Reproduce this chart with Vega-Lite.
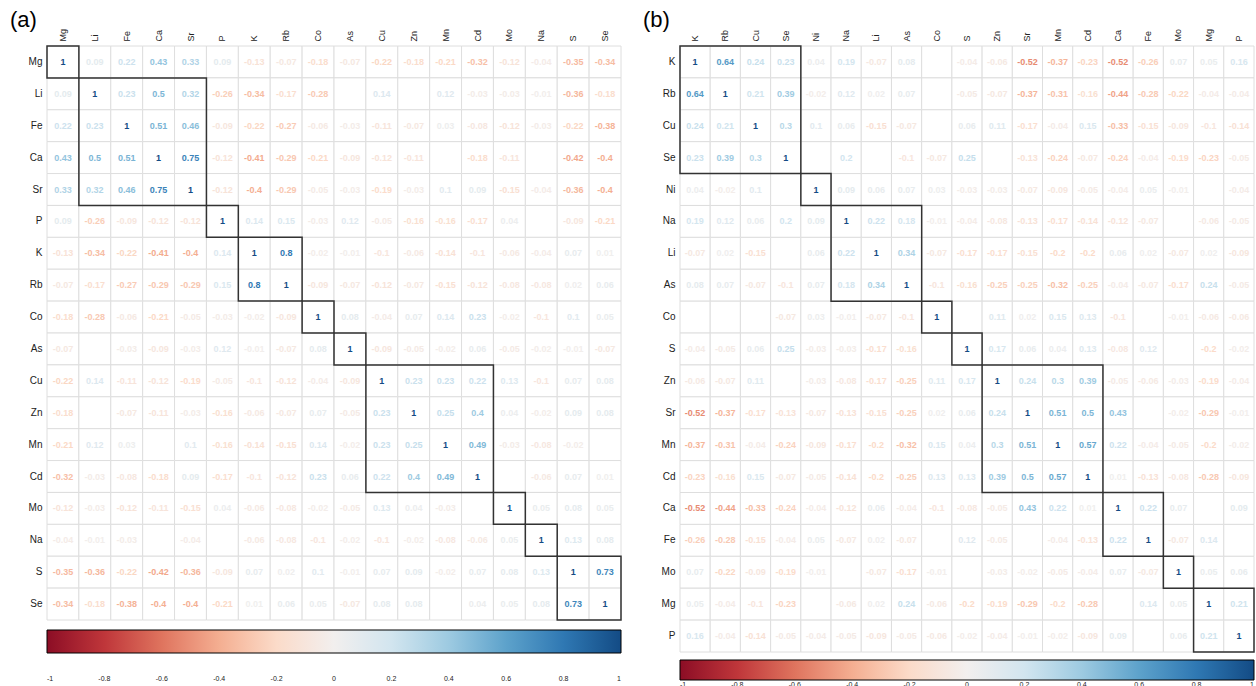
{
"$schema": "https://vega.github.io/schema/vega-lite/v6.json",
"padding": {"left": 10, "top": 9, "right": 0, "bottom": 0},
"spacing": 21,
"config": {"view": {"stroke": null}, "font": "Liberation Sans", "legend": {"gradientHorizontalMaxLength": 700}},
"resolve": {"scale": {"color": "independent", "x": "independent", "y": "independent"}, "legend": {"color": "independent"}},
"datasets": {
"a": [
{"r":"Mg","c":"Mg","v":1},{"r":"Mg","c":"Li","v":0.09},{"r":"Mg","c":"Fe","v":0.22},{"r":"Mg","c":"Ca","v":0.43},{"r":"Mg","c":"Sr","v":0.33},{"r":"Mg","c":"P","v":0.09},{"r":"Mg","c":"K","v":-0.13},{"r":"Mg","c":"Rb","v":-0.07},{"r":"Mg","c":"Co","v":-0.18},{"r":"Mg","c":"As","v":-0.07},{"r":"Mg","c":"Cu","v":-0.22},{"r":"Mg","c":"Zn","v":-0.18},{"r":"Mg","c":"Mn","v":-0.21},{"r":"Mg","c":"Cd","v":-0.32},{"r":"Mg","c":"Mo","v":-0.12},{"r":"Mg","c":"Na","v":-0.04},{"r":"Mg","c":"S","v":-0.35},{"r":"Mg","c":"Se","v":-0.34},
{"r":"Li","c":"Mg","v":0.09},{"r":"Li","c":"Li","v":1},{"r":"Li","c":"Fe","v":0.23},{"r":"Li","c":"Ca","v":0.5},{"r":"Li","c":"Sr","v":0.32},{"r":"Li","c":"P","v":-0.26},{"r":"Li","c":"K","v":-0.34},{"r":"Li","c":"Rb","v":-0.17},{"r":"Li","c":"Co","v":-0.28},{"r":"Li","c":"As","v":0},{"r":"Li","c":"Cu","v":0.14},{"r":"Li","c":"Zn","v":0},{"r":"Li","c":"Mn","v":0.12},{"r":"Li","c":"Cd","v":-0.03},{"r":"Li","c":"Mo","v":-0.03},{"r":"Li","c":"Na","v":-0.01},{"r":"Li","c":"S","v":-0.36},{"r":"Li","c":"Se","v":-0.18},
{"r":"Fe","c":"Mg","v":0.22},{"r":"Fe","c":"Li","v":0.23},{"r":"Fe","c":"Fe","v":1},{"r":"Fe","c":"Ca","v":0.51},{"r":"Fe","c":"Sr","v":0.46},{"r":"Fe","c":"P","v":-0.09},{"r":"Fe","c":"K","v":-0.22},{"r":"Fe","c":"Rb","v":-0.27},{"r":"Fe","c":"Co","v":-0.06},{"r":"Fe","c":"As","v":-0.03},{"r":"Fe","c":"Cu","v":-0.11},{"r":"Fe","c":"Zn","v":-0.07},{"r":"Fe","c":"Mn","v":0.03},{"r":"Fe","c":"Cd","v":-0.08},{"r":"Fe","c":"Mo","v":-0.12},{"r":"Fe","c":"Na","v":-0.03},{"r":"Fe","c":"S","v":-0.22},{"r":"Fe","c":"Se","v":-0.38},
{"r":"Ca","c":"Mg","v":0.43},{"r":"Ca","c":"Li","v":0.5},{"r":"Ca","c":"Fe","v":0.51},{"r":"Ca","c":"Ca","v":1},{"r":"Ca","c":"Sr","v":0.75},{"r":"Ca","c":"P","v":-0.12},{"r":"Ca","c":"K","v":-0.41},{"r":"Ca","c":"Rb","v":-0.29},{"r":"Ca","c":"Co","v":-0.21},{"r":"Ca","c":"As","v":-0.09},{"r":"Ca","c":"Cu","v":-0.12},{"r":"Ca","c":"Zn","v":-0.11},{"r":"Ca","c":"Mn","v":0},{"r":"Ca","c":"Cd","v":-0.18},{"r":"Ca","c":"Mo","v":-0.11},{"r":"Ca","c":"Na","v":0},{"r":"Ca","c":"S","v":-0.42},{"r":"Ca","c":"Se","v":-0.4},
{"r":"Sr","c":"Mg","v":0.33},{"r":"Sr","c":"Li","v":0.32},{"r":"Sr","c":"Fe","v":0.46},{"r":"Sr","c":"Ca","v":0.75},{"r":"Sr","c":"Sr","v":1},{"r":"Sr","c":"P","v":-0.12},{"r":"Sr","c":"K","v":-0.4},{"r":"Sr","c":"Rb","v":-0.29},{"r":"Sr","c":"Co","v":-0.05},{"r":"Sr","c":"As","v":-0.03},{"r":"Sr","c":"Cu","v":-0.19},{"r":"Sr","c":"Zn","v":-0.03},{"r":"Sr","c":"Mn","v":0.1},{"r":"Sr","c":"Cd","v":0.09},{"r":"Sr","c":"Mo","v":-0.15},{"r":"Sr","c":"Na","v":-0.04},{"r":"Sr","c":"S","v":-0.36},{"r":"Sr","c":"Se","v":-0.4},
{"r":"P","c":"Mg","v":0.09},{"r":"P","c":"Li","v":-0.26},{"r":"P","c":"Fe","v":-0.09},{"r":"P","c":"Ca","v":-0.12},{"r":"P","c":"Sr","v":-0.12},{"r":"P","c":"P","v":1},{"r":"P","c":"K","v":0.14},{"r":"P","c":"Rb","v":0.15},{"r":"P","c":"Co","v":-0.03},{"r":"P","c":"As","v":0.12},{"r":"P","c":"Cu","v":-0.05},{"r":"P","c":"Zn","v":-0.16},{"r":"P","c":"Mn","v":-0.16},{"r":"P","c":"Cd","v":-0.17},{"r":"P","c":"Mo","v":0.04},{"r":"P","c":"Na","v":0},{"r":"P","c":"S","v":-0.09},{"r":"P","c":"Se","v":-0.21},
{"r":"K","c":"Mg","v":-0.13},{"r":"K","c":"Li","v":-0.34},{"r":"K","c":"Fe","v":-0.22},{"r":"K","c":"Ca","v":-0.41},{"r":"K","c":"Sr","v":-0.4},{"r":"K","c":"P","v":0.14},{"r":"K","c":"K","v":1},{"r":"K","c":"Rb","v":0.8},{"r":"K","c":"Co","v":-0.02},{"r":"K","c":"As","v":-0.01},{"r":"K","c":"Cu","v":-0.1},{"r":"K","c":"Zn","v":-0.06},{"r":"K","c":"Mn","v":-0.14},{"r":"K","c":"Cd","v":-0.1},{"r":"K","c":"Mo","v":-0.06},{"r":"K","c":"Na","v":-0.04},{"r":"K","c":"S","v":0.07},{"r":"K","c":"Se","v":0.01},
{"r":"Rb","c":"Mg","v":-0.07},{"r":"Rb","c":"Li","v":-0.17},{"r":"Rb","c":"Fe","v":-0.27},{"r":"Rb","c":"Ca","v":-0.29},{"r":"Rb","c":"Sr","v":-0.29},{"r":"Rb","c":"P","v":0.15},{"r":"Rb","c":"K","v":0.8},{"r":"Rb","c":"Rb","v":1},{"r":"Rb","c":"Co","v":-0.09},{"r":"Rb","c":"As","v":-0.07},{"r":"Rb","c":"Cu","v":-0.12},{"r":"Rb","c":"Zn","v":-0.07},{"r":"Rb","c":"Mn","v":-0.15},{"r":"Rb","c":"Cd","v":-0.12},{"r":"Rb","c":"Mo","v":-0.08},{"r":"Rb","c":"Na","v":-0.08},{"r":"Rb","c":"S","v":0.02},{"r":"Rb","c":"Se","v":0.06},
{"r":"Co","c":"Mg","v":-0.18},{"r":"Co","c":"Li","v":-0.28},{"r":"Co","c":"Fe","v":-0.06},{"r":"Co","c":"Ca","v":-0.21},{"r":"Co","c":"Sr","v":-0.05},{"r":"Co","c":"P","v":-0.03},{"r":"Co","c":"K","v":-0.02},{"r":"Co","c":"Rb","v":-0.09},{"r":"Co","c":"Co","v":1},{"r":"Co","c":"As","v":0.08},{"r":"Co","c":"Cu","v":-0.04},{"r":"Co","c":"Zn","v":0.07},{"r":"Co","c":"Mn","v":0.14},{"r":"Co","c":"Cd","v":0.23},{"r":"Co","c":"Mo","v":-0.02},{"r":"Co","c":"Na","v":-0.1},{"r":"Co","c":"S","v":0.1},{"r":"Co","c":"Se","v":0.05},
{"r":"As","c":"Mg","v":-0.07},{"r":"As","c":"Li","v":0},{"r":"As","c":"Fe","v":-0.03},{"r":"As","c":"Ca","v":-0.09},{"r":"As","c":"Sr","v":-0.03},{"r":"As","c":"P","v":0.12},{"r":"As","c":"K","v":-0.01},{"r":"As","c":"Rb","v":-0.07},{"r":"As","c":"Co","v":0.08},{"r":"As","c":"As","v":1},{"r":"As","c":"Cu","v":-0.09},{"r":"As","c":"Zn","v":-0.05},{"r":"As","c":"Mn","v":-0.02},{"r":"As","c":"Cd","v":0.06},{"r":"As","c":"Mo","v":-0.05},{"r":"As","c":"Na","v":-0.02},{"r":"As","c":"S","v":-0.01},{"r":"As","c":"Se","v":-0.07},
{"r":"Cu","c":"Mg","v":-0.22},{"r":"Cu","c":"Li","v":0.14},{"r":"Cu","c":"Fe","v":-0.11},{"r":"Cu","c":"Ca","v":-0.12},{"r":"Cu","c":"Sr","v":-0.19},{"r":"Cu","c":"P","v":-0.05},{"r":"Cu","c":"K","v":-0.1},{"r":"Cu","c":"Rb","v":-0.12},{"r":"Cu","c":"Co","v":-0.04},{"r":"Cu","c":"As","v":-0.09},{"r":"Cu","c":"Cu","v":1},{"r":"Cu","c":"Zn","v":0.23},{"r":"Cu","c":"Mn","v":0.23},{"r":"Cu","c":"Cd","v":0.22},{"r":"Cu","c":"Mo","v":0.13},{"r":"Cu","c":"Na","v":-0.1},{"r":"Cu","c":"S","v":0.07},{"r":"Cu","c":"Se","v":0.08},
{"r":"Zn","c":"Mg","v":-0.18},{"r":"Zn","c":"Li","v":0},{"r":"Zn","c":"Fe","v":-0.07},{"r":"Zn","c":"Ca","v":-0.11},{"r":"Zn","c":"Sr","v":-0.03},{"r":"Zn","c":"P","v":-0.16},{"r":"Zn","c":"K","v":-0.06},{"r":"Zn","c":"Rb","v":-0.07},{"r":"Zn","c":"Co","v":0.07},{"r":"Zn","c":"As","v":-0.05},{"r":"Zn","c":"Cu","v":0.23},{"r":"Zn","c":"Zn","v":1},{"r":"Zn","c":"Mn","v":0.25},{"r":"Zn","c":"Cd","v":0.4},{"r":"Zn","c":"Mo","v":0.04},{"r":"Zn","c":"Na","v":-0.02},{"r":"Zn","c":"S","v":0.09},{"r":"Zn","c":"Se","v":0.08},
{"r":"Mn","c":"Mg","v":-0.21},{"r":"Mn","c":"Li","v":0.12},{"r":"Mn","c":"Fe","v":0.03},{"r":"Mn","c":"Ca","v":0},{"r":"Mn","c":"Sr","v":0.1},{"r":"Mn","c":"P","v":-0.16},{"r":"Mn","c":"K","v":-0.14},{"r":"Mn","c":"Rb","v":-0.15},{"r":"Mn","c":"Co","v":0.14},{"r":"Mn","c":"As","v":-0.02},{"r":"Mn","c":"Cu","v":0.23},{"r":"Mn","c":"Zn","v":0.25},{"r":"Mn","c":"Mn","v":1},{"r":"Mn","c":"Cd","v":0.49},{"r":"Mn","c":"Mo","v":-0.03},{"r":"Mn","c":"Na","v":-0.08},{"r":"Mn","c":"S","v":-0.02},{"r":"Mn","c":"Se","v":0},
{"r":"Cd","c":"Mg","v":-0.32},{"r":"Cd","c":"Li","v":-0.03},{"r":"Cd","c":"Fe","v":-0.08},{"r":"Cd","c":"Ca","v":-0.18},{"r":"Cd","c":"Sr","v":0.09},{"r":"Cd","c":"P","v":-0.17},{"r":"Cd","c":"K","v":-0.1},{"r":"Cd","c":"Rb","v":-0.12},{"r":"Cd","c":"Co","v":0.23},{"r":"Cd","c":"As","v":0.06},{"r":"Cd","c":"Cu","v":0.22},{"r":"Cd","c":"Zn","v":0.4},{"r":"Cd","c":"Mn","v":0.49},{"r":"Cd","c":"Cd","v":1},{"r":"Cd","c":"Mo","v":0},{"r":"Cd","c":"Na","v":-0.06},{"r":"Cd","c":"S","v":0.07},{"r":"Cd","c":"Se","v":0.01},
{"r":"Mo","c":"Mg","v":-0.12},{"r":"Mo","c":"Li","v":-0.03},{"r":"Mo","c":"Fe","v":-0.12},{"r":"Mo","c":"Ca","v":-0.11},{"r":"Mo","c":"Sr","v":-0.15},{"r":"Mo","c":"P","v":0.04},{"r":"Mo","c":"K","v":-0.06},{"r":"Mo","c":"Rb","v":-0.08},{"r":"Mo","c":"Co","v":-0.02},{"r":"Mo","c":"As","v":-0.05},{"r":"Mo","c":"Cu","v":0.13},{"r":"Mo","c":"Zn","v":0.04},{"r":"Mo","c":"Mn","v":-0.03},{"r":"Mo","c":"Cd","v":0},{"r":"Mo","c":"Mo","v":1},{"r":"Mo","c":"Na","v":0.05},{"r":"Mo","c":"S","v":0.08},{"r":"Mo","c":"Se","v":0.05},
{"r":"Na","c":"Mg","v":-0.04},{"r":"Na","c":"Li","v":-0.01},{"r":"Na","c":"Fe","v":-0.03},{"r":"Na","c":"Ca","v":0},{"r":"Na","c":"Sr","v":-0.04},{"r":"Na","c":"P","v":0},{"r":"Na","c":"K","v":-0.06},{"r":"Na","c":"Rb","v":-0.08},{"r":"Na","c":"Co","v":-0.1},{"r":"Na","c":"As","v":-0.02},{"r":"Na","c":"Cu","v":-0.1},{"r":"Na","c":"Zn","v":-0.02},{"r":"Na","c":"Mn","v":-0.08},{"r":"Na","c":"Cd","v":-0.06},{"r":"Na","c":"Mo","v":0.05},{"r":"Na","c":"Na","v":1},{"r":"Na","c":"S","v":0.13},{"r":"Na","c":"Se","v":0.08},
{"r":"S","c":"Mg","v":-0.35},{"r":"S","c":"Li","v":-0.36},{"r":"S","c":"Fe","v":-0.22},{"r":"S","c":"Ca","v":-0.42},{"r":"S","c":"Sr","v":-0.36},{"r":"S","c":"P","v":-0.09},{"r":"S","c":"K","v":0.07},{"r":"S","c":"Rb","v":0.02},{"r":"S","c":"Co","v":0.1},{"r":"S","c":"As","v":-0.01},{"r":"S","c":"Cu","v":0.07},{"r":"S","c":"Zn","v":0.09},{"r":"S","c":"Mn","v":-0.02},{"r":"S","c":"Cd","v":0.07},{"r":"S","c":"Mo","v":0.08},{"r":"S","c":"Na","v":0.13},{"r":"S","c":"S","v":1},{"r":"S","c":"Se","v":0.73},
{"r":"Se","c":"Mg","v":-0.34},{"r":"Se","c":"Li","v":-0.18},{"r":"Se","c":"Fe","v":-0.38},{"r":"Se","c":"Ca","v":-0.4},{"r":"Se","c":"Sr","v":-0.4},{"r":"Se","c":"P","v":-0.21},{"r":"Se","c":"K","v":0.01},{"r":"Se","c":"Rb","v":0.06},{"r":"Se","c":"Co","v":0.05},{"r":"Se","c":"As","v":-0.07},{"r":"Se","c":"Cu","v":0.08},{"r":"Se","c":"Zn","v":0.08},{"r":"Se","c":"Mn","v":0},{"r":"Se","c":"Cd","v":0.04},{"r":"Se","c":"Mo","v":0.05},{"r":"Se","c":"Na","v":0.08},{"r":"Se","c":"S","v":0.73},{"r":"Se","c":"Se","v":1}
],
"b": [
{"r":"K","c":"K","v":1},{"r":"K","c":"Rb","v":0.64},{"r":"K","c":"Cu","v":0.24},{"r":"K","c":"Se","v":0.23},{"r":"K","c":"Ni","v":0.04},{"r":"K","c":"Na","v":0.19},{"r":"K","c":"Li","v":-0.07},{"r":"K","c":"As","v":0.08},{"r":"K","c":"Co","v":0},{"r":"K","c":"S","v":-0.04},{"r":"K","c":"Zn","v":-0.06},{"r":"K","c":"Sr","v":-0.52},{"r":"K","c":"Mn","v":-0.37},{"r":"K","c":"Cd","v":-0.23},{"r":"K","c":"Ca","v":-0.52},{"r":"K","c":"Fe","v":-0.26},{"r":"K","c":"Mo","v":0.07},{"r":"K","c":"Mg","v":0.05},{"r":"K","c":"P","v":0.16},
{"r":"Rb","c":"K","v":0.64},{"r":"Rb","c":"Rb","v":1},{"r":"Rb","c":"Cu","v":0.21},{"r":"Rb","c":"Se","v":0.39},{"r":"Rb","c":"Ni","v":-0.02},{"r":"Rb","c":"Na","v":0.12},{"r":"Rb","c":"Li","v":0.02},{"r":"Rb","c":"As","v":0.07},{"r":"Rb","c":"Co","v":0},{"r":"Rb","c":"S","v":-0.05},{"r":"Rb","c":"Zn","v":-0.07},{"r":"Rb","c":"Sr","v":-0.37},{"r":"Rb","c":"Mn","v":-0.31},{"r":"Rb","c":"Cd","v":-0.16},{"r":"Rb","c":"Ca","v":-0.44},{"r":"Rb","c":"Fe","v":-0.28},{"r":"Rb","c":"Mo","v":-0.22},{"r":"Rb","c":"Mg","v":-0.04},{"r":"Rb","c":"P","v":-0.04},
{"r":"Cu","c":"K","v":0.24},{"r":"Cu","c":"Rb","v":0.21},{"r":"Cu","c":"Cu","v":1},{"r":"Cu","c":"Se","v":0.3},{"r":"Cu","c":"Ni","v":0.1},{"r":"Cu","c":"Na","v":0.06},{"r":"Cu","c":"Li","v":-0.15},{"r":"Cu","c":"As","v":-0.07},{"r":"Cu","c":"Co","v":0},{"r":"Cu","c":"S","v":0.06},{"r":"Cu","c":"Zn","v":0.11},{"r":"Cu","c":"Sr","v":-0.17},{"r":"Cu","c":"Mn","v":-0.04},{"r":"Cu","c":"Cd","v":0.15},{"r":"Cu","c":"Ca","v":-0.33},{"r":"Cu","c":"Fe","v":-0.15},{"r":"Cu","c":"Mo","v":-0.09},{"r":"Cu","c":"Mg","v":-0.1},{"r":"Cu","c":"P","v":-0.14},
{"r":"Se","c":"K","v":0.23},{"r":"Se","c":"Rb","v":0.39},{"r":"Se","c":"Cu","v":0.3},{"r":"Se","c":"Se","v":1},{"r":"Se","c":"Ni","v":0},{"r":"Se","c":"Na","v":0.2},{"r":"Se","c":"Li","v":0},{"r":"Se","c":"As","v":-0.1},{"r":"Se","c":"Co","v":-0.07},{"r":"Se","c":"S","v":0.25},{"r":"Se","c":"Zn","v":0},{"r":"Se","c":"Sr","v":-0.13},{"r":"Se","c":"Mn","v":-0.24},{"r":"Se","c":"Cd","v":-0.07},{"r":"Se","c":"Ca","v":-0.24},{"r":"Se","c":"Fe","v":-0.04},{"r":"Se","c":"Mo","v":-0.19},{"r":"Se","c":"Mg","v":-0.23},{"r":"Se","c":"P","v":-0.05},
{"r":"Ni","c":"K","v":0.04},{"r":"Ni","c":"Rb","v":-0.02},{"r":"Ni","c":"Cu","v":0.1},{"r":"Ni","c":"Se","v":0},{"r":"Ni","c":"Ni","v":1},{"r":"Ni","c":"Na","v":0.09},{"r":"Ni","c":"Li","v":0.06},{"r":"Ni","c":"As","v":0.07},{"r":"Ni","c":"Co","v":0.03},{"r":"Ni","c":"S","v":-0.03},{"r":"Ni","c":"Zn","v":-0.03},{"r":"Ni","c":"Sr","v":-0.07},{"r":"Ni","c":"Mn","v":-0.09},{"r":"Ni","c":"Cd","v":-0.05},{"r":"Ni","c":"Ca","v":-0.04},{"r":"Ni","c":"Fe","v":0.05},{"r":"Ni","c":"Mo","v":-0.01},{"r":"Ni","c":"Mg","v":0},{"r":"Ni","c":"P","v":-0.04},
{"r":"Na","c":"K","v":0.19},{"r":"Na","c":"Rb","v":0.12},{"r":"Na","c":"Cu","v":0.06},{"r":"Na","c":"Se","v":0.2},{"r":"Na","c":"Ni","v":0.09},{"r":"Na","c":"Na","v":1},{"r":"Na","c":"Li","v":0.22},{"r":"Na","c":"As","v":0.18},{"r":"Na","c":"Co","v":-0.01},{"r":"Na","c":"S","v":-0.04},{"r":"Na","c":"Zn","v":-0.08},{"r":"Na","c":"Sr","v":-0.13},{"r":"Na","c":"Mn","v":-0.17},{"r":"Na","c":"Cd","v":-0.14},{"r":"Na","c":"Ca","v":-0.12},{"r":"Na","c":"Fe","v":-0.07},{"r":"Na","c":"Mo","v":0},{"r":"Na","c":"Mg","v":-0.06},{"r":"Na","c":"P","v":-0.05},
{"r":"Li","c":"K","v":-0.07},{"r":"Li","c":"Rb","v":0.02},{"r":"Li","c":"Cu","v":-0.15},{"r":"Li","c":"Se","v":0},{"r":"Li","c":"Ni","v":0.06},{"r":"Li","c":"Na","v":0.22},{"r":"Li","c":"Li","v":1},{"r":"Li","c":"As","v":0.34},{"r":"Li","c":"Co","v":-0.07},{"r":"Li","c":"S","v":-0.17},{"r":"Li","c":"Zn","v":-0.17},{"r":"Li","c":"Sr","v":-0.15},{"r":"Li","c":"Mn","v":-0.2},{"r":"Li","c":"Cd","v":-0.2},{"r":"Li","c":"Ca","v":0.06},{"r":"Li","c":"Fe","v":0.02},{"r":"Li","c":"Mo","v":-0.07},{"r":"Li","c":"Mg","v":0.02},{"r":"Li","c":"P","v":-0.09},
{"r":"As","c":"K","v":0.08},{"r":"As","c":"Rb","v":0.07},{"r":"As","c":"Cu","v":-0.07},{"r":"As","c":"Se","v":-0.1},{"r":"As","c":"Ni","v":0.07},{"r":"As","c":"Na","v":0.18},{"r":"As","c":"Li","v":0.34},{"r":"As","c":"As","v":1},{"r":"As","c":"Co","v":-0.1},{"r":"As","c":"S","v":-0.16},{"r":"As","c":"Zn","v":-0.25},{"r":"As","c":"Sr","v":-0.25},{"r":"As","c":"Mn","v":-0.32},{"r":"As","c":"Cd","v":-0.25},{"r":"As","c":"Ca","v":-0.04},{"r":"As","c":"Fe","v":-0.07},{"r":"As","c":"Mo","v":-0.17},{"r":"As","c":"Mg","v":0.24},{"r":"As","c":"P","v":-0.05},
{"r":"Co","c":"K","v":0},{"r":"Co","c":"Rb","v":0},{"r":"Co","c":"Cu","v":0},{"r":"Co","c":"Se","v":-0.07},{"r":"Co","c":"Ni","v":0.03},{"r":"Co","c":"Na","v":-0.01},{"r":"Co","c":"Li","v":-0.07},{"r":"Co","c":"As","v":-0.1},{"r":"Co","c":"Co","v":1},{"r":"Co","c":"S","v":0},{"r":"Co","c":"Zn","v":0.11},{"r":"Co","c":"Sr","v":0.02},{"r":"Co","c":"Mn","v":0.15},{"r":"Co","c":"Cd","v":0.13},{"r":"Co","c":"Ca","v":-0.1},{"r":"Co","c":"Fe","v":0},{"r":"Co","c":"Mo","v":-0.01},{"r":"Co","c":"Mg","v":-0.06},{"r":"Co","c":"P","v":-0.06},
{"r":"S","c":"K","v":-0.04},{"r":"S","c":"Rb","v":-0.05},{"r":"S","c":"Cu","v":0.06},{"r":"S","c":"Se","v":0.25},{"r":"S","c":"Ni","v":-0.03},{"r":"S","c":"Na","v":-0.03},{"r":"S","c":"Li","v":-0.17},{"r":"S","c":"As","v":-0.16},{"r":"S","c":"Co","v":0},{"r":"S","c":"S","v":1},{"r":"S","c":"Zn","v":0.17},{"r":"S","c":"Sr","v":0.06},{"r":"S","c":"Mn","v":0.04},{"r":"S","c":"Cd","v":0.13},{"r":"S","c":"Ca","v":-0.08},{"r":"S","c":"Fe","v":0.12},{"r":"S","c":"Mo","v":0},{"r":"S","c":"Mg","v":-0.2},{"r":"S","c":"P","v":-0.02},
{"r":"Zn","c":"K","v":-0.06},{"r":"Zn","c":"Rb","v":-0.07},{"r":"Zn","c":"Cu","v":0.11},{"r":"Zn","c":"Se","v":0},{"r":"Zn","c":"Ni","v":-0.03},{"r":"Zn","c":"Na","v":-0.08},{"r":"Zn","c":"Li","v":-0.17},{"r":"Zn","c":"As","v":-0.25},{"r":"Zn","c":"Co","v":0.11},{"r":"Zn","c":"S","v":0.17},{"r":"Zn","c":"Zn","v":1},{"r":"Zn","c":"Sr","v":0.24},{"r":"Zn","c":"Mn","v":0.3},{"r":"Zn","c":"Cd","v":0.39},{"r":"Zn","c":"Ca","v":-0.05},{"r":"Zn","c":"Fe","v":-0.06},{"r":"Zn","c":"Mo","v":-0.03},{"r":"Zn","c":"Mg","v":-0.19},{"r":"Zn","c":"P","v":-0.04},
{"r":"Sr","c":"K","v":-0.52},{"r":"Sr","c":"Rb","v":-0.37},{"r":"Sr","c":"Cu","v":-0.17},{"r":"Sr","c":"Se","v":-0.13},{"r":"Sr","c":"Ni","v":-0.07},{"r":"Sr","c":"Na","v":-0.13},{"r":"Sr","c":"Li","v":-0.15},{"r":"Sr","c":"As","v":-0.25},{"r":"Sr","c":"Co","v":0.02},{"r":"Sr","c":"S","v":0.06},{"r":"Sr","c":"Zn","v":0.24},{"r":"Sr","c":"Sr","v":1},{"r":"Sr","c":"Mn","v":0.51},{"r":"Sr","c":"Cd","v":0.5},{"r":"Sr","c":"Ca","v":0.43},{"r":"Sr","c":"Fe","v":0},{"r":"Sr","c":"Mo","v":-0.02},{"r":"Sr","c":"Mg","v":-0.29},{"r":"Sr","c":"P","v":-0.01},
{"r":"Mn","c":"K","v":-0.37},{"r":"Mn","c":"Rb","v":-0.31},{"r":"Mn","c":"Cu","v":-0.04},{"r":"Mn","c":"Se","v":-0.24},{"r":"Mn","c":"Ni","v":-0.09},{"r":"Mn","c":"Na","v":-0.17},{"r":"Mn","c":"Li","v":-0.2},{"r":"Mn","c":"As","v":-0.32},{"r":"Mn","c":"Co","v":0.15},{"r":"Mn","c":"S","v":0.04},{"r":"Mn","c":"Zn","v":0.3},{"r":"Mn","c":"Sr","v":0.51},{"r":"Mn","c":"Mn","v":1},{"r":"Mn","c":"Cd","v":0.57},{"r":"Mn","c":"Ca","v":0.22},{"r":"Mn","c":"Fe","v":-0.04},{"r":"Mn","c":"Mo","v":-0.05},{"r":"Mn","c":"Mg","v":-0.2},{"r":"Mn","c":"P","v":-0.02},
{"r":"Cd","c":"K","v":-0.23},{"r":"Cd","c":"Rb","v":-0.16},{"r":"Cd","c":"Cu","v":0.15},{"r":"Cd","c":"Se","v":-0.07},{"r":"Cd","c":"Ni","v":-0.05},{"r":"Cd","c":"Na","v":-0.14},{"r":"Cd","c":"Li","v":-0.2},{"r":"Cd","c":"As","v":-0.25},{"r":"Cd","c":"Co","v":0.13},{"r":"Cd","c":"S","v":0.13},{"r":"Cd","c":"Zn","v":0.39},{"r":"Cd","c":"Sr","v":0.5},{"r":"Cd","c":"Mn","v":0.57},{"r":"Cd","c":"Cd","v":1},{"r":"Cd","c":"Ca","v":0.01},{"r":"Cd","c":"Fe","v":-0.13},{"r":"Cd","c":"Mo","v":-0.08},{"r":"Cd","c":"Mg","v":-0.28},{"r":"Cd","c":"P","v":-0.09},
{"r":"Ca","c":"K","v":-0.52},{"r":"Ca","c":"Rb","v":-0.44},{"r":"Ca","c":"Cu","v":-0.33},{"r":"Ca","c":"Se","v":-0.24},{"r":"Ca","c":"Ni","v":-0.04},{"r":"Ca","c":"Na","v":-0.12},{"r":"Ca","c":"Li","v":0.06},{"r":"Ca","c":"As","v":-0.04},{"r":"Ca","c":"Co","v":-0.1},{"r":"Ca","c":"S","v":-0.08},{"r":"Ca","c":"Zn","v":-0.05},{"r":"Ca","c":"Sr","v":0.43},{"r":"Ca","c":"Mn","v":0.22},{"r":"Ca","c":"Cd","v":0.01},{"r":"Ca","c":"Ca","v":1},{"r":"Ca","c":"Fe","v":0.22},{"r":"Ca","c":"Mo","v":0.07},{"r":"Ca","c":"Mg","v":0},{"r":"Ca","c":"P","v":0.09},
{"r":"Fe","c":"K","v":-0.26},{"r":"Fe","c":"Rb","v":-0.28},{"r":"Fe","c":"Cu","v":-0.15},{"r":"Fe","c":"Se","v":-0.04},{"r":"Fe","c":"Ni","v":0.05},{"r":"Fe","c":"Na","v":-0.07},{"r":"Fe","c":"Li","v":0.02},{"r":"Fe","c":"As","v":-0.07},{"r":"Fe","c":"Co","v":0},{"r":"Fe","c":"S","v":0.12},{"r":"Fe","c":"Zn","v":-0.05},{"r":"Fe","c":"Sr","v":0},{"r":"Fe","c":"Mn","v":-0.04},{"r":"Fe","c":"Cd","v":-0.13},{"r":"Fe","c":"Ca","v":0.22},{"r":"Fe","c":"Fe","v":1},{"r":"Fe","c":"Mo","v":-0.07},{"r":"Fe","c":"Mg","v":0.14},{"r":"Fe","c":"P","v":0},
{"r":"Mo","c":"K","v":0.07},{"r":"Mo","c":"Rb","v":-0.22},{"r":"Mo","c":"Cu","v":-0.09},{"r":"Mo","c":"Se","v":-0.19},{"r":"Mo","c":"Ni","v":-0.01},{"r":"Mo","c":"Na","v":0},{"r":"Mo","c":"Li","v":-0.07},{"r":"Mo","c":"As","v":-0.17},{"r":"Mo","c":"Co","v":-0.01},{"r":"Mo","c":"S","v":0},{"r":"Mo","c":"Zn","v":-0.03},{"r":"Mo","c":"Sr","v":-0.02},{"r":"Mo","c":"Mn","v":-0.05},{"r":"Mo","c":"Cd","v":-0.04},{"r":"Mo","c":"Ca","v":0.07},{"r":"Mo","c":"Fe","v":-0.07},{"r":"Mo","c":"Mo","v":1},{"r":"Mo","c":"Mg","v":0.05},{"r":"Mo","c":"P","v":0.06},
{"r":"Mg","c":"K","v":0.05},{"r":"Mg","c":"Rb","v":-0.04},{"r":"Mg","c":"Cu","v":-0.1},{"r":"Mg","c":"Se","v":-0.23},{"r":"Mg","c":"Ni","v":0},{"r":"Mg","c":"Na","v":-0.06},{"r":"Mg","c":"Li","v":0.02},{"r":"Mg","c":"As","v":0.24},{"r":"Mg","c":"Co","v":-0.06},{"r":"Mg","c":"S","v":-0.2},{"r":"Mg","c":"Zn","v":-0.19},{"r":"Mg","c":"Sr","v":-0.29},{"r":"Mg","c":"Mn","v":-0.2},{"r":"Mg","c":"Cd","v":-0.28},{"r":"Mg","c":"Ca","v":0},{"r":"Mg","c":"Fe","v":0.14},{"r":"Mg","c":"Mo","v":0.05},{"r":"Mg","c":"Mg","v":1},{"r":"Mg","c":"P","v":0.21},
{"r":"P","c":"K","v":0.16},{"r":"P","c":"Rb","v":-0.04},{"r":"P","c":"Cu","v":-0.14},{"r":"P","c":"Se","v":-0.05},{"r":"P","c":"Ni","v":-0.04},{"r":"P","c":"Na","v":-0.05},{"r":"P","c":"Li","v":-0.09},{"r":"P","c":"As","v":-0.05},{"r":"P","c":"Co","v":-0.06},{"r":"P","c":"S","v":-0.02},{"r":"P","c":"Zn","v":-0.04},{"r":"P","c":"Sr","v":-0.01},{"r":"P","c":"Mn","v":-0.02},{"r":"P","c":"Cd","v":-0.09},{"r":"P","c":"Ca","v":0.09},{"r":"P","c":"Fe","v":0},{"r":"P","c":"Mo","v":0.06},{"r":"P","c":"Mg","v":0.21},{"r":"P","c":"P","v":1}
],
"ka": [{"c":"Mg","l":"Mg"},{"c":"Li","l":"Sr"},{"c":"P","l":"P"},{"c":"K","l":"Rb"},{"c":"Co","l":"Co"},{"c":"As","l":"As"},{"c":"Cu","l":"Cd"},{"c":"Mo","l":"Mo"},{"c":"Na","l":"Na"},{"c":"S","l":"Se"}],
"kb": [{"c":"K","l":"Se"},{"c":"Ni","l":"Ni"},{"c":"Na","l":"As"},{"c":"Co","l":"Co"},{"c":"S","l":"S"},{"c":"Zn","l":"Cd"},{"c":"Ca","l":"Fe"},{"c":"Mo","l":"Mo"},{"c":"Mg","l":"P"}]
},
"hconcat": [
{
"width": 574, "height": 574,
"title": {"text": "(a)", "anchor": "start", "fontSize": 22, "fontWeight": "normal", "color": "#000", "dx": -37, "offset": -4, "frame": "group"},
"layer": [
{"data": {"name": "a"}, "mark": {"type": "rect", "fill": "#ffffff", "stroke": "#dedede", "strokeWidth": 1},
 "encoding": {
  "x": {"field": "c", "type": "nominal", "scale": {"domain": ["Mg","Li","Fe","Ca","Sr","P","K","Rb","Co","As","Cu","Zn","Mn","Cd","Mo","Na","S","Se"]}, "axis": {"orient": "top", "title": null, "labelAngle": -90, "labelAlign": "left", "labelBaseline": "middle", "labelFontSize": 9, "labelColor": "#222", "labelPadding": 5, "ticks": false, "domain": false}},
  "y": {"field": "r", "type": "nominal", "scale": {"domain": ["Mg","Li","Fe","Ca","Sr","P","K","Rb","Co","As","Cu","Zn","Mn","Cd","Mo","Na","S","Se"]}, "axis": {"title": null, "labelFontSize": 10, "labelColor": "#222", "labelPadding": 5, "ticks": false, "domain": false}}
 }},
{"data": {"name": "a"}, "transform": [{"filter": "datum.v != 0"}], "mark": {"type": "text", "fontSize": 9, "fontWeight": "bold"},
 "encoding": {
  "x": {"field": "c", "type": "nominal"},
  "y": {"field": "r", "type": "nominal"},
  "text": {"field": "v", "type": "nominal"},
  "color": {"field": "v", "type": "quantitative", "scale": {"scheme": "redblue", "domain": [-1, 1]},
   "legend": {"orient": "bottom", "direction": "horizontal", "title": null, "gradientLength": 574, "gradientThickness": 23, "values": [-1,-0.8,-0.6,-0.4,-0.2,0,0.2,0.4,0.6,0.8,1], "labelExpr": "'' + datum.value", "labelFontSize": 7, "labelColor": "#222", "labelAlign": "center", "labelOffset": 22, "gradientStrokeColor": "#000", "gradientStrokeWidth": 1, "offset": 10, "padding": 0}}
 }},
{"data": {"name": "ka"}, "mark": {"type": "rect", "fillOpacity": 0, "stroke": "#333333", "strokeWidth": 1.5},
 "encoding": {
  "x": {"field": "c", "type": "nominal", "bandPosition": 0},
  "x2": {"field": "l", "bandPosition": 1},
  "y": {"field": "c", "type": "nominal", "bandPosition": 0},
  "y2": {"field": "l", "bandPosition": 1}
 }}
]
},
{
"width": 574, "height": 606,
"title": {"text": "(b)", "anchor": "start", "fontSize": 22, "fontWeight": "normal", "color": "#000", "dx": -37, "offset": -4, "frame": "group"},
"layer": [
{"data": {"name": "b"}, "mark": {"type": "rect", "fill": "#ffffff", "stroke": "#dedede", "strokeWidth": 1},
 "encoding": {
  "x": {"field": "c", "type": "nominal", "scale": {"domain": ["K","Rb","Cu","Se","Ni","Na","Li","As","Co","S","Zn","Sr","Mn","Cd","Ca","Fe","Mo","Mg","P"]}, "axis": {"orient": "top", "title": null, "labelAngle": -90, "labelAlign": "left", "labelBaseline": "middle", "labelFontSize": 9, "labelColor": "#222", "labelPadding": 5, "ticks": false, "domain": false}},
  "y": {"field": "r", "type": "nominal", "scale": {"domain": ["K","Rb","Cu","Se","Ni","Na","Li","As","Co","S","Zn","Sr","Mn","Cd","Ca","Fe","Mo","Mg","P"]}, "axis": {"title": null, "labelFontSize": 10, "labelColor": "#222", "labelPadding": 5, "ticks": false, "domain": false}}
 }},
{"data": {"name": "b"}, "transform": [{"filter": "datum.v != 0"}], "mark": {"type": "text", "fontSize": 9, "fontWeight": "bold"},
 "encoding": {
  "x": {"field": "c", "type": "nominal"},
  "y": {"field": "r", "type": "nominal"},
  "text": {"field": "v", "type": "nominal"},
  "color": {"field": "v", "type": "quantitative", "scale": {"scheme": "redblue", "domain": [-1, 1]},
   "legend": {"orient": "bottom", "direction": "horizontal", "title": null, "gradientLength": 574, "gradientThickness": 20, "values": [-1,-0.8,-0.6,-0.4,-0.2,0,0.2,0.4,0.6,0.8,1], "labelExpr": "'' + datum.value", "labelFontSize": 7, "labelColor": "#222", "labelAlign": "center", "labelOffset": 1, "gradientStrokeColor": "#000", "gradientStrokeWidth": 1, "offset": 8, "padding": 0}}
 }},
{"data": {"name": "kb"}, "mark": {"type": "rect", "fillOpacity": 0, "stroke": "#333333", "strokeWidth": 1.5},
 "encoding": {
  "x": {"field": "c", "type": "nominal", "bandPosition": 0},
  "x2": {"field": "l", "bandPosition": 1},
  "y": {"field": "c", "type": "nominal", "bandPosition": 0},
  "y2": {"field": "l", "bandPosition": 1}
 }}
]
}
]
}
